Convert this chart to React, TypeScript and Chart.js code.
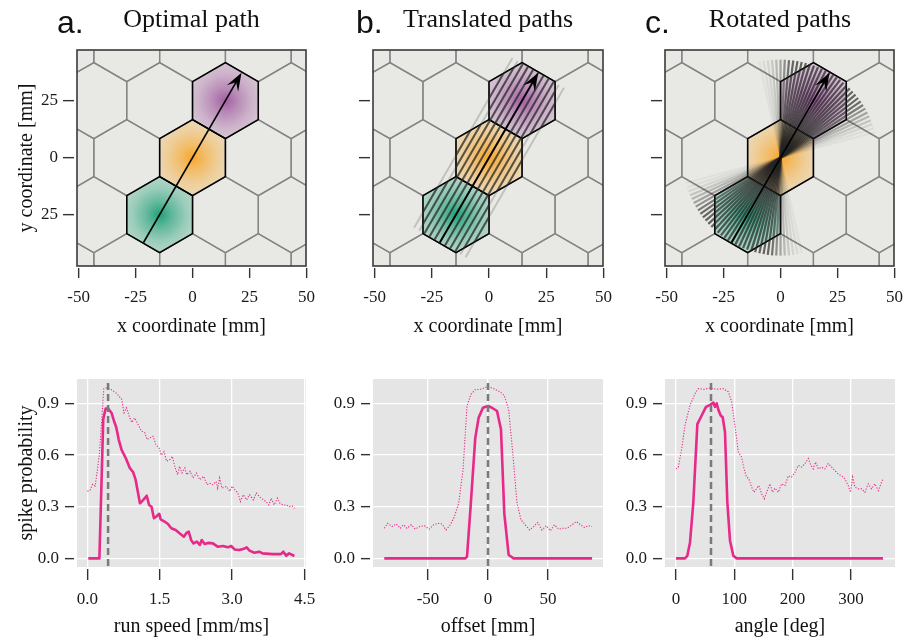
import React, { useEffect, useRef } from 'react';
import { Chart, registerables } from 'chart.js';
Chart.register(...registerables);

const SERIF = '"Liberation Serif", "Times New Roman", Times, serif';
const SANS = '"Liberation Sans", Arial, sans-serif';
const PINK = '#e7298a';
const TICK = '#333333';

// ---------------- map panels (top row) ----------------
const hexRadius = 50 / 3;
const fieldCenterX = [-14.43, 0, 14.43];
const fieldCenterY = [-25, 0, 25];
const fieldColors = ['27,158,119', '248,165,40', '160,90,160'];
const pathStart = [-21.5, -37.2];
const pathEnd = [21.5, 37.2];
const shiftOffsets = [-13, -10.4, -7.8, -5.2, -2.6, 0, 2.6, 5.2, 7.8, 10.4, 13];
const fanAngles = [15, 17.5, 20, 22.5, 25, 27.5, 30, 32.5, 35, 37.5, 40, 42.5, 45, 47.5, 50, 52.5, 55, 57.5, 60, 62.5, 65, 67.5, 70, 72.5, 75, 77.5, 80, 82.5, 85, 87.5, 90, 92.5, 95, 97.5, 100, 102.5];
const fanWeights = [0.003, 0.006, 0.02, 0.06, 0.12, 0.22, 0.34, 0.55, 0.72, 0.79, 0.81, 0.83, 0.84, 0.86, 0.87, 0.88, 0.885, 0.89, 0.895, 0.9, 0.89, 0.885, 0.9, 0.87, 0.84, 0.83, 0.82, 0.78, 0.65, 0.38, 0.22, 0.11, 0.05, 0.02, 0.01, 0.004];
const mapXTicks = [-50, -25, 0, 25, 50];
const mapYTicks = [-25, 0, 25];
const mapYTickLabels = ['25', '0', '25'];

// ---------------- tuning curves (bottom row) ----------------
const speedSolidX = [0.02, 0.25, 0.33, 0.38, 0.43, 0.5, 0.55, 0.6, 0.65, 0.71, 0.8, 0.88, 0.95, 1.0, 1.09, 1.16, 1.23, 1.28, 1.33, 1.38, 1.43, 1.49, 1.52, 1.6, 1.67, 1.74, 1.83, 1.91, 2.0, 2.06, 2.1, 2.15, 2.2, 2.27, 2.33, 2.37, 2.43, 2.5, 2.6, 2.7, 2.81, 2.91, 2.98, 3.05, 3.15, 3.26, 3.3, 3.36, 3.46, 3.56, 3.63, 3.84, 4.01, 4.06, 4.12, 4.18, 4.29];
const speedSolidY = [0, 0, 0.81, 0.87, 0.87, 0.846, 0.8, 0.76, 0.69, 0.63, 0.58, 0.525, 0.5, 0.457, 0.32, 0.34, 0.364, 0.31, 0.3, 0.233, 0.243, 0.259, 0.227, 0.214, 0.2, 0.175, 0.165, 0.146, 0.126, 0.15, 0.155, 0.107, 0.087, 0.097, 0.078, 0.107, 0.084, 0.09, 0.087, 0.068, 0.072, 0.064, 0.072, 0.052, 0.049, 0.058, 0.064, 0.045, 0.033, 0.039, 0.029, 0.025, 0.025, 0.039, 0.016, 0.029, 0.014];
const speedDotX = [0, 0.055, 0.11, 0.16, 0.21, 0.25, 0.3, 0.34, 0.4, 0.5, 0.6, 0.71, 0.76, 0.81, 0.88, 0.92, 0.98, 1.07, 1.12, 1.19, 1.24, 1.29, 1.36, 1.42, 1.49, 1.53, 1.59, 1.64, 1.71, 1.76, 1.81, 1.87, 1.91, 1.96, 2.02, 2.06, 2.13, 2.19, 2.26, 2.33, 2.41, 2.48, 2.53, 2.6, 2.67, 2.7, 2.74, 2.79, 2.88, 2.95, 3.0, 3.05, 3.12, 3.17, 3.23, 3.3, 3.36, 3.44, 3.5, 3.56, 3.65, 3.7, 3.76, 3.81, 3.87, 3.94, 3.99, 4.06, 4.13, 4.18, 4.24, 4.29];
const speedDotY = [0.39, 0.395, 0.43, 0.42, 0.515, 0.61, 0.81, 0.985, 0.99, 0.98, 0.96, 0.925, 0.846, 0.875, 0.816, 0.79, 0.816, 0.768, 0.74, 0.73, 0.69, 0.7, 0.71, 0.66, 0.64, 0.6, 0.62, 0.565, 0.574, 0.593, 0.535, 0.486, 0.535, 0.496, 0.525, 0.486, 0.506, 0.467, 0.496, 0.457, 0.477, 0.428, 0.437, 0.428, 0.447, 0.408, 0.467, 0.408, 0.418, 0.39, 0.42, 0.4, 0.38, 0.33, 0.37, 0.34, 0.37, 0.34, 0.38, 0.36, 0.34, 0.33, 0.31, 0.35, 0.31, 0.35, 0.32, 0.31, 0.31, 0.3, 0.305, 0.29];

const offsetSolidX = [-86.4, -18.9, -17.5, -14.7, -10.6, -7.8, -4.2, 0, 3.3, 7.5, 10.8, 13.6, 17.2, 21.4, 86.7];
const offsetSolidY = [0, 0, 0.01, 0.28, 0.7, 0.817, 0.875, 0.885, 0.875, 0.856, 0.75, 0.26, 0.02, 0, 0];
const offsetDotX = [-86.4, -83.6, -80, -76.4, -73, -70.3, -67.5, -63.9, -60.6, -57, -53, -49, -45.3, -42, -38.3, -35, -31.4, -28, -24.4, -20.8, -17.5, -14.2, -10.6, -6.4, 0, 4.7, 10.3, 13.6, 17.2, 20.6, 24.2, 27.5, 31.1, 34.7, 38, 41.4, 45, 48.6, 52, 55.3, 58.9, 62.5, 65.8, 70, 73.6, 77, 80.3, 83.9, 86.7];
const offsetDotY = [0.175, 0.204, 0.185, 0.2, 0.175, 0.195, 0.175, 0.195, 0.17, 0.185, 0.19, 0.17, 0.195, 0.204, 0.2, 0.165, 0.195, 0.243, 0.32, 0.515, 0.885, 0.953, 0.98, 0.982, 0.998, 0.986, 0.967, 0.944, 0.866, 0.613, 0.32, 0.224, 0.195, 0.165, 0.185, 0.208, 0.165, 0.19, 0.16, 0.195, 0.17, 0.175, 0.175, 0.195, 0.214, 0.195, 0.18, 0.19, 0.185];

const angleSolidX = [0, 15.4, 19.4, 24, 29.7, 36.6, 44, 51.4, 59.4, 64, 66.9, 69.7, 73, 76.6, 80, 84, 88, 92.6, 98.3, 104, 355];
const angleSolidY = [0, 0, 0.015, 0.093, 0.326, 0.78, 0.83, 0.88, 0.893, 0.905, 0.88, 0.9, 0.86, 0.83, 0.82, 0.734, 0.326, 0.103, 0.015, 0, 0];
const angleDotX = [0, 4, 9.7, 15.4, 24, 32.6, 38.3, 48, 58.3, 69.7, 81, 89.7, 95.4, 101, 106.9, 112.6, 116.6, 121, 125, 129.7, 133.7, 138, 142, 146.9, 151.4, 155.4, 161, 165.7, 169.7, 175.4, 181, 186.9, 192.6, 198.3, 204, 209.7, 215.4, 221, 226.9, 230.9, 235.4, 239.4, 244, 249.7, 255.4, 261, 266.9, 272.6, 278.3, 284, 289.7, 295.4, 299.4, 302.9, 306.9, 312.6, 318.3, 324, 329.7, 335.4, 341, 346.9, 352.6, 355.4];
const angleDotY = [0.52, 0.53, 0.637, 0.773, 0.889, 0.957, 0.986, 0.982, 0.99, 0.982, 0.986, 0.967, 0.91, 0.773, 0.617, 0.588, 0.52, 0.472, 0.462, 0.414, 0.384, 0.404, 0.423, 0.375, 0.346, 0.384, 0.433, 0.384, 0.408, 0.384, 0.433, 0.423, 0.48, 0.472, 0.5, 0.54, 0.53, 0.55, 0.58, 0.544, 0.52, 0.56, 0.52, 0.53, 0.52, 0.55, 0.53, 0.51, 0.49, 0.48, 0.462, 0.423, 0.384, 0.472, 0.414, 0.404, 0.404, 0.384, 0.433, 0.404, 0.433, 0.394, 0.443, 0.462];

const speedPeak = 0.43;
const offsetPeak = 0;
const anglePeak = 60;
const speedTicks = [0, 1.5, 3, 4.5];
const offsetTicks = [-50, 0, 50];
const angleTicks = [0, 100, 200, 300];
const probTicks = [0, 0.3, 0.6, 0.9];

// ---------------- helpers ----------------
const AXIS_W = 77;
const RIGHT_PAD = 20;
const TICK_FONT = 17;

function zip(xs: number[], ys: number[]) {
  const n = Math.min(xs.length, ys.length);
  const out: { x: number; y: number }[] = [];
  for (let i = 0; i < n; i++) out.push({ x: xs[i], y: ys[i] });
  return out;
}

function xAxis(o: { min: number; max: number; ticks: number[]; fmt: (v: number) => string; title: string; H: number; tickLen: number; gap: number; grid: boolean }) {
  return {
    type: 'linear',
    min: o.min,
    max: o.max,
    afterBuildTicks: (a: any) => { a.ticks = o.ticks.map((v) => ({ value: v })); },
    afterFit: (a: any) => { a.height = o.H; },
    ticks: { autoSkip: false, maxRotation: 0, padding: 9, color: '#1a1a1a', font: { family: SERIF, size: TICK_FONT }, callback: (v: any) => o.fmt(Number(v)) },
    grid: {
      display: true, drawOnChartArea: o.grid, color: '#ffffff', lineWidth: 1.3,
      drawTicks: true, tickLength: o.tickLen, tickColor: TICK, tickWidth: 1.4,
      tickBorderDash: [o.tickLen - o.gap, o.gap], tickBorderDashOffset: o.tickLen - o.gap,
    },
    border: { display: false },
    title: { display: true, text: o.title, color: '#111', font: { family: SERIF, size: 20 }, padding: { top: 0, bottom: 0 } },
  };
}

function yAxis(o: { min: number; max: number; ticks: number[]; label: (v: number, i: number) => string; showLabels: boolean; title: string | null; tickLen: number; gap: number; pad: number; grid: boolean }) {
  return {
    type: 'linear',
    min: o.min,
    max: o.max,
    afterBuildTicks: (a: any) => { a.ticks = o.ticks.map((v) => ({ value: v })); },
    afterFit: (a: any) => { a.width = AXIS_W; },
    ticks: { display: o.showLabels, autoSkip: false, padding: o.pad, color: '#1a1a1a', font: { family: SERIF, size: TICK_FONT }, callback: (v: any, i: number) => o.label(Number(v), i) },
    grid: {
      display: true, drawOnChartArea: o.grid, color: '#ffffff', lineWidth: 1.3,
      drawTicks: true, tickLength: o.tickLen, tickColor: TICK, tickWidth: 1.4,
      tickBorderDash: [o.tickLen - o.gap, o.gap], tickBorderDashOffset: 0,
    },
    border: { display: false },
    title: o.title
      ? { display: true, text: o.title, color: '#111', font: { family: SERIF, size: 20 }, padding: { top: 15, bottom: 0 } }
      : { display: false },
  };
}

function mapPlugin(mode: 'a' | 'b' | 'c') {
  return {
    id: 'hexmap' + mode,
    beforeDatasetsDraw(chart: any) {
      const { ctx, chartArea: ca, scales } = chart;
      const xs = scales.x, ys = scales.y;
      const px = (v: number) => xs.getPixelForValue(v);
      const py = (v: number) => ys.getPixelForValue(v);
      const hexPath = (cx: number, cy: number, fresh = true) => {
        if (fresh) ctx.beginPath();
        for (let i = 0; i < 6; i++) {
          const a = ((90 + 60 * i) * Math.PI) / 180;
          const vx = px(cx + hexRadius * Math.cos(a));
          const vy = py(cy + hexRadius * Math.sin(a));
          if (i === 0) ctx.moveTo(vx, vy); else ctx.lineTo(vx, vy);
        }
        ctx.closePath();
      };
      ctx.save();
      ctx.beginPath();
      ctx.rect(ca.left, ca.top, ca.width, ca.height);
      ctx.clip();
      ctx.fillStyle = '#e8e9e4';
      ctx.fillRect(ca.left, ca.top, ca.width, ca.height);

      // place-field fills
      const rPix = Math.abs(py(hexRadius) - py(0));
      fieldCenterX.forEach((cx, i) => {
        const cy = fieldCenterY[i];
        const c = fieldColors[i];
        hexPath(cx, cy);
        const g = ctx.createRadialGradient(px(cx), py(cy), 0, px(cx), py(cy), rPix);
        g.addColorStop(0, `rgba(${c},0.97)`);
        g.addColorStop(0.35, `rgba(${c},0.64)`);
        g.addColorStop(0.7, `rgba(${c},0.38)`);
        g.addColorStop(1, `rgba(${c},0.25)`);
        ctx.fillStyle = g;
        ctx.fill();
      });

      // hex grid
      const colW = Math.sqrt(3) * hexRadius;
      ctx.strokeStyle = '#858585';
      ctx.lineWidth = 1.3;
      for (let k = -3; k <= 3; k++) {
        for (let m = -4; m <= 4; m++) {
          const cx = colW * (m + (Math.abs(k) % 2) / 2);
          const cy = 1.5 * hexRadius * k;
          hexPath(cx, cy);
          ctx.stroke();
        }
      }
      // field borders
      ctx.strokeStyle = '#000';
      ctx.lineWidth = 1.5;
      fieldCenterX.forEach((cx, i) => { hexPath(cx, fieldCenterY[i]); ctx.stroke(); });

      const dx = pathEnd[0] - pathStart[0];
      const dy = pathEnd[1] - pathStart[1];
      const len = Math.hypot(dx, dy);
      const ux = dx / len, uy = dy / len;
      const nx = -uy, ny = ux;
      const midX = (pathStart[0] + pathEnd[0]) / 2;
      const midY = (pathStart[1] + pathEnd[1]) / 2;

      if (mode === 'b') {
        const drawShifts = (style: string) => {
          ctx.strokeStyle = style;
          ctx.lineWidth = 2;
          shiftOffsets.forEach((off) => {
            ctx.beginPath();
            ctx.moveTo(px(pathStart[0] + nx * off), py(pathStart[1] + ny * off));
            ctx.lineTo(px(pathEnd[0] + nx * off), py(pathEnd[1] + ny * off));
            ctx.stroke();
          });
        };
        drawShifts('rgba(70,70,70,0.24)');
        ctx.save();
        ctx.beginPath();
        fieldCenterX.forEach((cx, i) => hexPath(cx, fieldCenterY[i], false));
        ctx.clip();
        drawShifts('rgba(35,35,35,0.68)');
        ctx.restore();
      }
      if (mode === 'c') {
        ctx.lineWidth = 2.2;
        fanAngles.forEach((deg, i) => {
          const a = (deg * Math.PI) / 180;
          const alpha = 0.75 * Math.sqrt(fanWeights[i]);
          const h = len / 2;
          ctx.strokeStyle = `rgba(35,35,35,${alpha})`;
          ctx.beginPath();
          ctx.moveTo(px(midX - h * Math.cos(a)), py(midY - h * Math.sin(a)));
          ctx.lineTo(px(midX + h * Math.cos(a)), py(midY + h * Math.sin(a)));
          ctx.stroke();
        });
      }

      // arrow (optimal path)
      const sX = px(pathStart[0]), sY = py(pathStart[1]);
      const tX = px(pathEnd[0]), tY = py(pathEnd[1]);
      const lp = Math.hypot(tX - sX, tY - sY);
      const qx = (tX - sX) / lp, qy = (tY - sY) / lp;
      const rx = -qy, ry = qx;
      const L = 18, Wd = 6.5;
      ctx.strokeStyle = '#000';
      ctx.lineWidth = 1.6;
      ctx.beginPath();
      ctx.moveTo(sX, sY);
      ctx.lineTo(tX - qx * L * 0.6, tY - qy * L * 0.6);
      ctx.stroke();
      ctx.fillStyle = '#000';
      ctx.beginPath();
      ctx.moveTo(tX, tY);
      ctx.lineTo(tX - qx * L + rx * Wd, tY - qy * L + ry * Wd);
      ctx.lineTo(tX - qx * L * 0.6, tY - qy * L * 0.6);
      ctx.lineTo(tX - qx * L - rx * Wd, tY - qy * L - ry * Wd);
      ctx.closePath();
      ctx.fill();
      ctx.restore();
    },
    afterDraw(chart: any) {
      const { ctx, chartArea: ca } = chart;
      ctx.save();
      ctx.strokeStyle = '#3a3a3a';
      ctx.lineWidth = 1.6;
      ctx.strokeRect(ca.left, ca.top, ca.width, ca.height);
      ctx.restore();
    },
  };
}

function mapConfig(mode: 'a' | 'b' | 'c', T: number, H: number) {
  return {
    type: 'scatter',
    data: { datasets: [] },
    options: {
      responsive: false,
      animation: false,
      devicePixelRatio: 1,
      layout: { padding: { top: T, right: RIGHT_PAD, left: 0, bottom: 0 } },
      plugins: { legend: { display: false }, tooltip: { enabled: false }, title: { display: false } },
      scales: {
        x: xAxis({ min: -50.7, max: 49.8, ticks: mapXTicks, fmt: (v) => String(v), title: 'x coordinate [mm]', H, tickLen: 12, gap: 2, grid: false }),
        y: yAxis({ min: -47.5, max: 47.2, ticks: mapYTicks, label: (_v, i) => mapYTickLabels[i] ?? '', showLabels: mode === 'a', title: mode === 'a' ? 'y coordinate [mm]' : null, tickLen: 14, gap: 3, pad: 5, grid: false }),
      },
    },
    plugins: [mapPlugin(mode)],
  };
}

function curveConfig(o: { solid: { x: number; y: number }[]; dotted: { x: number; y: number }[]; peak: number; xmin: number; xmax: number; xticks: number[]; fmt: (v: number) => string; xtitle: string; ytitle: string | null }, T: number, H: number) {
  const bg = {
    id: 'bg',
    beforeDraw(chart: any) {
      const { ctx, chartArea: c } = chart;
      ctx.save();
      ctx.fillStyle = '#e5e5e5';
      ctx.fillRect(c.left, c.top, c.width, c.height);
      ctx.restore();
    },
  };
  const peak = {
    id: 'peak',
    afterDatasetsDraw(chart: any) {
      const { ctx, chartArea: c, scales } = chart;
      const x = scales.x.getPixelForValue(o.peak);
      ctx.save();
      ctx.strokeStyle = '#7a7a7a';
      ctx.lineWidth = 2.5;
      ctx.setLineDash([7, 4]);
      ctx.beginPath();
      ctx.moveTo(x, c.top + 4);
      ctx.lineTo(x, c.bottom);
      ctx.stroke();
      ctx.restore();
    },
  };
  return {
    type: 'scatter',
    data: {
      datasets: [
        { data: o.solid, showLine: true, borderColor: PINK, borderWidth: 2.6, pointRadius: 0, borderJoinStyle: 'round', tension: 0 },
        { data: o.dotted, showLine: true, borderColor: PINK, borderWidth: 1.1, borderDash: [1.2, 1.6], pointRadius: 0, tension: 0 },
      ],
    },
    options: {
      responsive: false,
      animation: false,
      devicePixelRatio: 1,
      layout: { padding: { top: T, right: RIGHT_PAD, left: 0, bottom: 0 } },
      plugins: { legend: { display: false }, tooltip: { enabled: false }, title: { display: false } },
      scales: {
        x: xAxis({ min: o.xmin, max: o.xmax, ticks: o.xticks, fmt: o.fmt, title: o.xtitle, H, tickLen: 13, gap: 2, grid: true }),
        y: yAxis({ min: -0.05, max: 1.042, ticks: probTicks, label: (v) => v.toFixed(1), showLabels: true, title: o.ytitle, tickLen: 12, gap: 3, pad: 6, grid: true }),
      },
    },
    plugins: [bg, peak],
  };
}

type Frame = { x: number; y: number; w: number; h: number };

function ChartPanel({ frame, T, H, make }: { frame: Frame; T: number; H: number; make: (T: number, H: number) => any }) {
  const ref = useRef<HTMLCanvasElement>(null);
  const cw = AXIS_W + frame.w + RIGHT_PAD;
  const ch = T + frame.h + H;
  useEffect(() => {
    const chart = new Chart(ref.current as HTMLCanvasElement, make(T, H));
    return () => chart.destroy();
  }, []);
  return (
    <canvas
      ref={ref}
      width={cw}
      height={ch}
      style={{ position: 'absolute', left: frame.x - AXIS_W, top: frame.y - T, width: cw, height: ch, display: 'block' }}
    />
  );
}

const TOP_T = 50, TOP_H = 73, BOT_T = 20, BOT_H = 72;

export default function App() {
  const letter = (t: string, x: number) => (
    <div style={{ position: 'absolute', left: x, top: 6, fontFamily: SANS, fontSize: 32, lineHeight: '32px', color: '#111', whiteSpace: 'nowrap' }}>{t}</div>
  );
  const title = (t: string, cx: number) => (
    <div style={{ position: 'absolute', left: cx - 150, width: 300, top: 6, textAlign: 'center', fontFamily: SERIF, fontSize: 26, lineHeight: '26px', color: '#111', whiteSpace: 'nowrap' }}>{t}</div>
  );
  return (
    <div style={{ position: 'absolute', left: 0, top: 0, width: 910, height: 642, background: '#ffffff', overflow: 'hidden' }}>
      <ChartPanel frame={{ x: 77, y: 50, w: 229, h: 216 }} T={TOP_T} H={TOP_H} make={(T, H) => mapConfig('a', T, H)} />
      <ChartPanel frame={{ x: 373, y: 50, w: 230, h: 216 }} T={TOP_T} H={TOP_H} make={(T, H) => mapConfig('b', T, H)} />
      <ChartPanel frame={{ x: 665, y: 50, w: 229, h: 216 }} T={TOP_T} H={TOP_H} make={(T, H) => mapConfig('c', T, H)} />
      <ChartPanel
        frame={{ x: 77, y: 379, w: 229, h: 188 }} T={BOT_T} H={BOT_H}
        make={(T, H) => curveConfig({ solid: zip(speedSolidX, speedSolidY), dotted: zip(speedDotX, speedDotY), peak: speedPeak, xmin: -0.214, xmax: 4.53, xticks: speedTicks, fmt: (v) => v.toFixed(1), xtitle: 'run speed [mm/ms]', ytitle: 'spike probability' }, T, H)}
      />
      <ChartPanel
        frame={{ x: 373, y: 379, w: 230, h: 188 }} T={BOT_T} H={BOT_H}
        make={(T, H) => curveConfig({ solid: zip(offsetSolidX, offsetSolidY), dotted: zip(offsetDotX, offsetDotY), peak: offsetPeak, xmin: -95.8, xmax: 95.8, xticks: offsetTicks, fmt: (v) => String(v), xtitle: 'offset [mm]', ytitle: null }, T, H)}
      />
      <ChartPanel
        frame={{ x: 665, y: 379, w: 230, h: 188 }} T={BOT_T} H={BOT_H}
        make={(T, H) => curveConfig({ solid: zip(angleSolidX, angleSolidY), dotted: zip(angleDotX, angleDotY), peak: anglePeak, xmin: -18.9, xmax: 375.6, xticks: angleTicks, fmt: (v) => String(v), xtitle: 'angle [deg]', ytitle: null }, T, H)}
      />
      {letter('a.', 57)}
      {title('Optimal path', 191.5)}
      {letter('b.', 356)}
      {title('Translated paths', 488)}
      {letter('c.', 645)}
      {title('Rotated paths', 780)}
    </div>
  );
}
